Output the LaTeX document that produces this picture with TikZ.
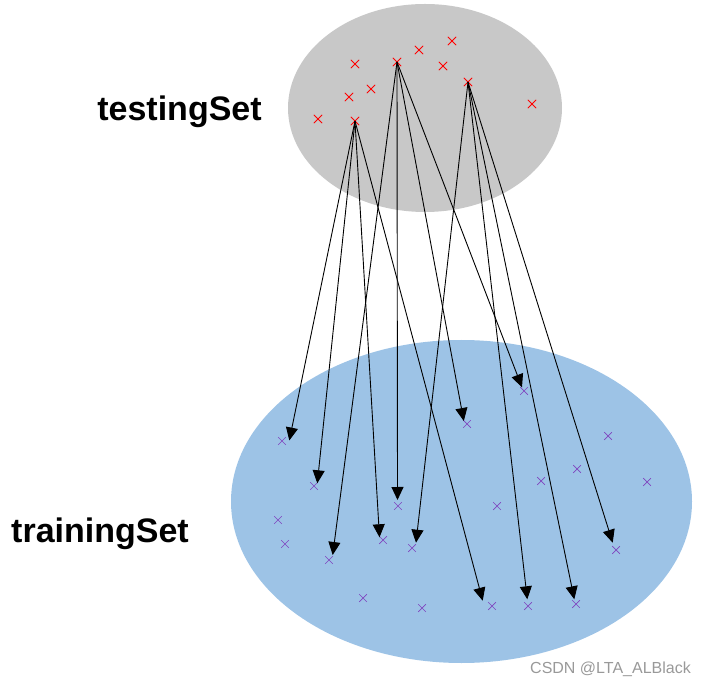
\documentclass[tikz,border=0pt]{standalone}
\usepackage{fontspec}
\setmainfont{Liberation Sans}
\usetikzlibrary{arrows.meta,shapes.misc}
\definecolor{topgray}{HTML}{C8C8C8}
\definecolor{setblue}{HTML}{9DC3E6}
\definecolor{xred}{HTML}{FF0000}
\definecolor{xpurple}{HTML}{7F45BF}
\tikzset{
  rcross/.style={cross out,draw=xred,line width=0.8pt,minimum size=7.5pt,inner sep=0pt},
  pcross/.style={cross out,draw=xpurple,line width=0.7pt,minimum size=7pt,inner sep=0pt},
  arr/.style={line width=0.9pt,-{Triangle[length=13pt,width=12pt]}},
  setlabel/.style={font=\fontsize{34}{37}\selectfont\bfseries,inner sep=0pt,anchor=base}
}
\begin{document}
\begin{tikzpicture}[x=1pt,y=-1pt]
\useasboundingbox (0,0) rectangle (707,684);
% sets
\fill[topgray] (425,108) ellipse [x radius=137, y radius=104];
\fill[setblue] (461.5,501.5) ellipse [x radius=230.5, y radius=161.5];
% labels
\node[setlabel] (ltest) at (179.5,121) {testingSet};
\node[setlabel] (ltrain) at (100,542) {trainingSet};
\node[font=\fontsize{16}{18}\selectfont,text=gray!80,anchor=base east,inner sep=0pt] (wm) at (691,673) {CSDN @LTA\_ALBlack};
% testing points
\node[rcross] (r1) at (355,64) {};
\node[rcross] (A) at (397,62) {};
\node[rcross] (r3) at (419,50) {};
\node[rcross] (r4) at (452,41) {};
\node[rcross] (r5) at (443,66) {};
\node[rcross] (C) at (468,82) {};
\node[rcross] (r7) at (371,89) {};
\node[rcross] (r8) at (349,97) {};
\node[rcross] (r9) at (318,119) {};
\node[rcross] (B) at (355,121) {};
\node[rcross] (r11) at (532,104) {};
% training points
\node[pcross] (p1) at (282,441) {};
\node[pcross] (p2) at (314,486) {};
\node[pcross] (p3) at (398,506) {};
\node[pcross] (p4) at (278,520) {};
\node[pcross] (p5) at (285,544) {};
\node[pcross] (p6) at (329,560) {};
\node[pcross] (p7) at (383,540) {};
\node[pcross] (p8) at (412,548) {};
\node[pcross] (p9) at (363,598) {};
\node[pcross] (p10) at (422,608) {};
\node[pcross] (p11) at (467,424) {};
\node[pcross] (p12) at (524,391) {};
\node[pcross] (p13) at (608,436) {};
\node[pcross] (p14) at (577,469) {};
\node[pcross] (p15) at (541,481) {};
\node[pcross] (p16) at (647,482) {};
\node[pcross] (p17) at (497,506) {};
\node[pcross] (p18) at (616,550) {};
\node[pcross] (p19) at (492,606) {};
\node[pcross] (p20) at (528,606) {};
\node[pcross] (p21) at (576,604) {};
% arrow tips
\coordinate (t1) at (289.3,440.5);
\coordinate (t2) at (317.3,483.3);
\coordinate (t7) at (379.5,537.3);
\coordinate (t19) at (482.7,600.7);
\coordinate (t6) at (332.7,555);
\coordinate (t3) at (397.5,500);
\coordinate (t11) at (463.8,421);
\coordinate (t12) at (522,387.3);
\coordinate (t8) at (416,542.7);
\coordinate (t20) at (527.3,599.3);
\coordinate (t21) at (574.3,599.3);
\coordinate (t18) at (612.7,542.7);
% arrows
\draw[arr] (B.center) -- (t1);
\draw[arr] (B.center) -- (t2);
\draw[arr] (B.center) -- (t7);
\draw[arr] (B.center) -- (t19);
\draw[arr] (A.center) -- (t6);
\draw[arr] (A.center) -- (t3);
\draw[arr] (A.center) -- (t11);
\draw[arr] (A.center) -- (t12);
\draw[arr] (C.center) -- (t8);
\draw[arr] (C.center) -- (t20);
\draw[arr] (C.center) -- (t21);
\draw[arr] (C.center) -- (t18);
\end{tikzpicture}
\end{document}
